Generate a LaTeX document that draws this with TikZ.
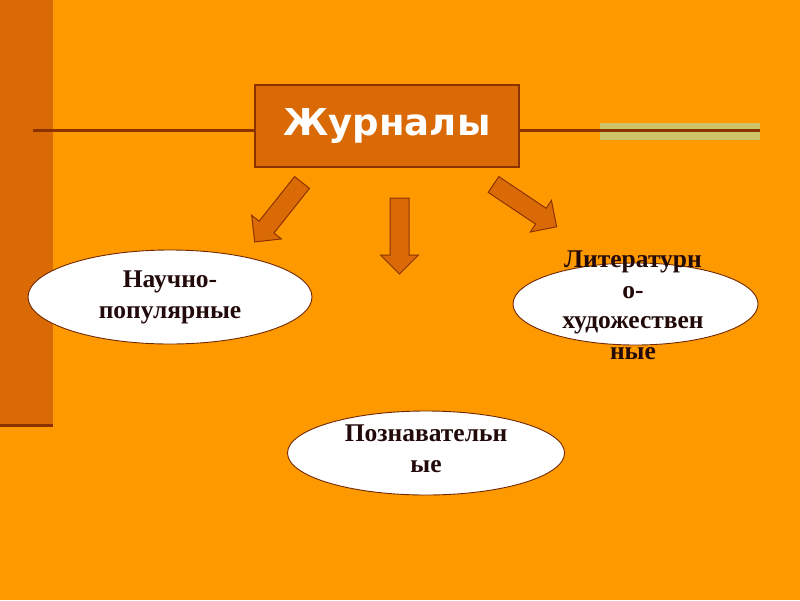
\documentclass[tikz,border=0pt]{standalone}
\usepackage{fontspec}
\setmainfont{Liberation Serif}
\newfontfamily\titlefont{DejaVu Sans}
\usetikzlibrary{shapes.geometric}
\definecolor{bgorange}{RGB}{255,153,0}
\definecolor{darkorange}{RGB}{218,106,6}
\definecolor{brownline}{RGB}{140,50,0}
\definecolor{olivebar}{RGB}{204,196,102}
\definecolor{textdark}{RGB}{35,10,10}
\tikzset{
  titlebox/.style={draw=brownline, line width=1.2pt, fill=darkorange, minimum width=264pt, minimum height=82pt, inner sep=0pt,
    text=white, font=\titlefont\bfseries\fontsize{37}{42}\selectfont},
  oval/.style={ellipse, draw=brownline!80!black, line width=0.9pt, fill=white, inner sep=0pt},
  ovaltext/.style={align=center, text=textdark, font=\bfseries\fontsize{25.5}{30.5}\selectfont, inner sep=0pt},
  hline/.style={draw=brownline, line width=2.2pt},
  arrowfill/.style={draw=brownline, line width=1pt, fill=darkorange, line join=miter},
  pics/blockarrow/.style={code={\draw[arrowfill] (0,-9.5) -- (57,-9.5) -- (57,-19) -- (76,0) -- (57,19) -- (57,9.5) -- (0,9.5) -- cycle;}}
}
\begin{document}
\begin{tikzpicture}[x=1pt,y=-1pt]
\fill[bgorange] (0,0) rectangle (800,600);
\useasboundingbox (0,0) rectangle (800,600);
% left bar
\fill[darkorange] (0,0) rectangle (53,425);
\draw[brownline, line width=3pt] (0,425.5) -- (53,425.5);
% olive bar
\fill[olivebar] (600,123) rectangle (760,140);
% title
\node[titlebox] (title) at (387,126) {Журналы};
\coordinate (lstart) at (33,130.5);
\coordinate (rend) at (760,130.5);
\draw[hline] (lstart) -- (lstart -| title.west);
\draw[hline] (rend -| title.east) -- (rend);
% arrows
\pic[rotate=231.5] at (302,182.5) {blockarrow};
\pic[rotate=-90] at (399.5,198) {blockarrow};
\pic[rotate=-33.8] at (493.5,184.5) {blockarrow};
% ellipses
\node[oval, minimum width=284pt, minimum height=94pt] (nauch) at (170,297) {};
\node[oval, minimum width=245pt, minimum height=82pt] (lit) at (635.5,304) {};
\node[oval, minimum width=277pt, minimum height=84pt] (pozn) at (426,453) {};
\node[ovaltext] (nauchT) at (170,297.5) {Научно-\\популярные};
\node[ovaltext] (litT) at (633,305.5) {Литературн\\о-\\художествен\\ные};
\node[ovaltext] (poznT) at (426,449) {Познавательн\\ые};
\end{tikzpicture}
\end{document}
